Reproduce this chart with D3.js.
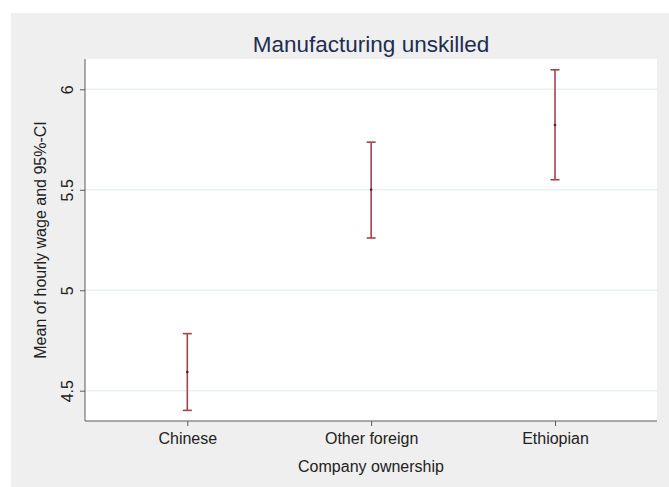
<!DOCTYPE html>
<html><head><meta charset="utf-8">
<script src="https://cdn.jsdelivr.net/npm/d3@7"></script>
<style>html,body{margin:0;padding:0;background:#fff;}svg{display:block;}</style>
</head><body>
<script>
const categories = ["Chinese", "Other foreign", "Ethiopian"];
const means = [4.593, 5.50, 5.822];
const lower = [4.402, 5.26, 5.55];
const upper = [4.784, 5.737, 6.097];
const yTicks = [4.5, 5, 5.5, 6];
const titleText = "Manufacturing unskilled";
const xTitle = "Company ownership";
const yTitle = "Mean of hourly wage and 95%-CI";

const W = 669, H = 487;
const plot = {left: 85, right: 657, top: 59, bottom: 421};
const svg = d3.select("body").append("svg").attr("width", W).attr("height", H);
const font = "Arial, 'Liberation Sans', sans-serif";

svg.append("rect").attr("x", 11).attr("y", 13).attr("width", W - 11).attr("height", H - 13).attr("fill", "#efefef");
svg.append("rect").attr("x", plot.left).attr("y", plot.top).attr("width", plot.right - plot.left).attr("height", plot.bottom - plot.top).attr("fill", "#ffffff");

const x = d3.scalePoint().domain(categories).range([187.3, 555]);
const y = d3.scaleLinear().domain([4.5, 6]).range([390.7, 89.3]);

// gridlines
svg.append("g").selectAll("line").data(yTicks).join("line")
  .attr("x1", plot.left).attr("x2", plot.right)
  .attr("y1", d => y(d)).attr("y2", d => y(d))
  .attr("stroke", "#eaf1f3").attr("stroke-width", 1.5);

// y axis
const yAxis = svg.append("g").attr("transform", `translate(${plot.left},0)`)
  .call(d3.axisLeft(y).tickValues(yTicks).tickFormat(d3.format("")).tickSize(5).tickPadding(12));
yAxis.select(".domain").attr("d", `M0,${plot.top}V${plot.bottom}`).attr("stroke", "#5a5a5a");
yAxis.selectAll(".tick line").attr("stroke", "#5a5a5a");
yAxis.selectAll(".tick text")
  .attr("font-family", font).attr("font-size", 16).attr("fill", "#222")
  .attr("transform", "rotate(-90)")
  .attr("x", 0).attr("y", -12).attr("dy", 0)
  .attr("text-anchor", "middle");

// x axis
const xAxis = svg.append("g").attr("transform", `translate(0,${plot.bottom})`)
  .call(d3.axisBottom(x).tickSize(5).tickPadding(7));
xAxis.select(".domain").attr("d", `M${plot.left},0H${plot.right}`).attr("stroke", "#5a5a5a");
xAxis.selectAll(".tick line").attr("stroke", "#5a5a5a");
xAxis.selectAll(".tick text").attr("font-family", font).attr("font-size", 16).attr("fill", "#222");

// error bars
const g = svg.append("g");
const capW = 4.5;
categories.forEach((c, i) => {
  const cx = x(c);
  g.append("line").attr("x1", cx).attr("x2", cx).attr("y1", y(lower[i])).attr("y2", y(upper[i]))
    .attr("stroke", "#a3434d").attr("stroke-width", 1.6);
  [lower[i], upper[i]].forEach(v => {
    g.append("line").attr("x1", cx - capW).attr("x2", cx + capW).attr("y1", y(v)).attr("y2", y(v))
      .attr("stroke", "#a3434d").attr("stroke-width", 1.6);
  });
  g.append("circle").attr("cx", cx).attr("cy", y(means[i])).attr("r", 1.3).attr("fill", "#3a2a30");
});

// titles
svg.append("text").attr("x", 371).attr("y", 52.3).attr("text-anchor", "middle")
  .attr("font-family", font).attr("font-size", 22.5).attr("fill", "#1e2d4f").text(titleText);
svg.append("text").attr("x", 371).attr("y", 471.7).attr("text-anchor", "middle")
  .attr("font-family", font).attr("font-size", 16).attr("fill", "#222").text(xTitle);
svg.append("text").attr("transform", "translate(46,240) rotate(-90)").attr("text-anchor", "middle")
  .attr("font-family", font).attr("font-size", 16).attr("fill", "#222").text(yTitle);
</script>
</body></html>
